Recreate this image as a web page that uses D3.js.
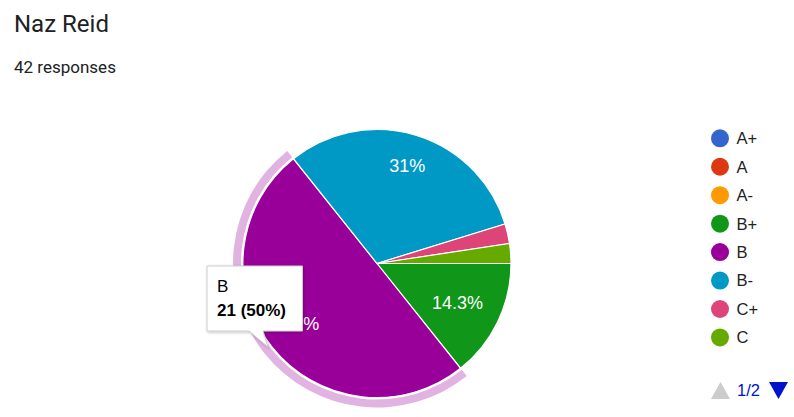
<!DOCTYPE html>
<html><head><meta charset="utf-8">
<script src="https://cdn.jsdelivr.net/npm/d3@7"></script>
<style>body{margin:0;background:#fff;}svg{display:block;}</style>
</head><body>
<svg id="c" width="794" height="417"></svg>
<script>
const categories = ["A+","A","A-","B+","B","B-","C+","C"];
const counts = [0,0,0,6,21,13,1,1];
const colors = ["#3366cc","#dc3912","#ff9900","#109618","#990099","#0099c6","#dd4477","#66aa00"];
const title = "Naz Reid";
const subtitle = "42 responses";
const highlighted = "B";
const pageLabel = "1/2";

const svg = d3.select("#c");
const total = d3.sum(counts);
svg.append("text").attr("x",14).attr("y",32).attr("font-family","Roboto").attr("font-size",24).attr("fill","#202124").text(title);
svg.append("text").attr("x",14).attr("y",73).attr("font-family","Roboto").attr("font-size",17).attr("fill","#202124").text(subtitle);

const cx = 377, cy = 263.5, r = 134;
const data = categories.map((c,i)=>({cat:c,value:counts[i],color:colors[i]}));
const pie = d3.pie().value(d=>d.value).sort(null).startAngle(Math.PI/2).endAngle(Math.PI/2+2*Math.PI);
const arcs = pie(data).filter(d=>d.data.value>0);
const g = svg.append("g").attr("transform",`translate(${cx},${cy})`);
const arc = d3.arc().innerRadius(0).outerRadius(r);
const ring = d3.arc().innerRadius(r+2).outerRadius(r+10);
arcs.filter(d=>d.data.cat===highlighted).forEach(d=>{
  g.append("path").attr("d",ring(d)).attr("fill",d3.interpolateRgb(d.data.color,"#fff")(0.7));
});
g.selectAll("path.s").data(arcs).join("path").attr("class","s")
  .attr("d",arc).attr("fill",d=>d.data.color).attr("stroke","#fff").attr("stroke-width",1.2);
const fmt = v => { const p = v/total*100; return (Math.round(p*10)/10).toString()+"%"; };
// labels: pushed outward until the farthest corner of the text box reaches 0.86 r
const labels = g.selectAll("text.l").data(arcs.filter(d=>d.data.value/total>0.05)).join("text").attr("class","l")
  .attr("text-anchor","middle").attr("dy","0.36em")
  .attr("font-family","Liberation Sans, Arial").attr("font-size",18).attr("fill","#fff")
  .text(d=>fmt(d.data.value));
labels.each(function(d){
  const w = this.getComputedTextLength(), h = 13;
  const a = (d.startAngle+d.endAngle)/2;
  const sx = Math.sin(a), sy = -Math.cos(a);
  const far = R => { const x = R*sx, y = R*sy; return Math.hypot(Math.abs(x)+w/2, Math.abs(y)+h/2); };
  let lo = 0, hi = r;
  for (let k=0;k<40;k++){ const m=(lo+hi)/2; if (far(m) < 0.86*r) lo=m; else hi=m; }
  d3.select(this).attr("x", lo*sx).attr("y", lo*sy);
});

// legend
const lg = svg.append("g");
categories.forEach((c,i)=>{
  const y = 138.3 + i*28.45;
  lg.append("circle").attr("cx",720).attr("cy",y).attr("r",9).attr("fill",colors[i]);
  lg.append("text").attr("x",736.5).attr("y",y).attr("dy","0.36em").attr("font-family","Liberation Sans, Arial").attr("font-size",16.5).attr("fill","#222").text(c);
});
// pager
svg.append("path").attr("d","M711,399 L720.5,382 L730,399 Z").attr("fill","#cccccc");
svg.append("text").attr("x",737).attr("y",396).attr("font-family","Liberation Sans, Arial").attr("font-size",16.5).attr("fill","#0011cc").text(pageLabel);
svg.append("path").attr("d","M769,382 L788,382 L778.5,399 Z").attr("fill","#0011cc");

// tooltip
const hd = data.find(d=>d.cat===highlighted);
const tt = svg.append("g");
const defs = svg.append("defs");
const f = defs.append("filter").attr("id","sh").attr("x","-20%").attr("y","-20%").attr("width","140%").attr("height","140%");
f.append("feDropShadow").attr("dx",1).attr("dy",1).attr("stdDeviation",1.5).attr("flood-color","#000").attr("flood-opacity",0.25);
tt.append("path").attr("d","M207,266 L302.5,266 L302.5,331 L263,331 L268,347 L249,331 L207,331 Z")
  .attr("fill","#fff").attr("stroke","#cccccc").attr("stroke-width",1).attr("filter","url(#sh)");
tt.append("text").attr("x",217).attr("y",292).attr("font-family","Liberation Sans, Arial").attr("font-size",17).attr("fill","#000").text(hd.cat);
tt.append("text").attr("x",217).attr("y",316).attr("font-family","Liberation Sans, Arial").attr("font-size",17).attr("font-weight","bold").attr("fill","#000")
  .text(`${hd.value} (${Math.round(hd.value/total*100)}%)`);
</script>
</body></html>
